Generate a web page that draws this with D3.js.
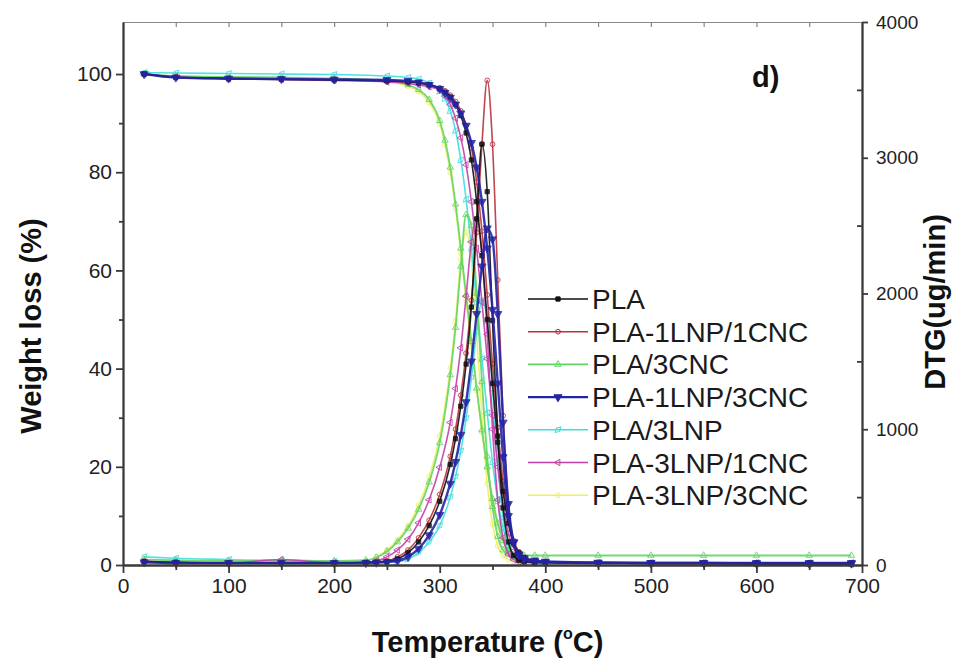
<!DOCTYPE html>
<html>
<head>
<meta charset="utf-8">
<script src="https://cdn.jsdelivr.net/npm/d3@7"></script>
<style>
  body { margin: 0; background: #fff; }
  svg { display: block; font-family: "Liberation Sans", Arial, sans-serif; }
</style>
</head>
<body>
<svg id="chart" width="955" height="665"></svg>
<script>
// Temperature grid for the weight-loss (TGA) curves, °C
const tgaTemps = [20, 50, 100, 150, 200, 250, 270, 280, 290, 300, 305, 310, 315, 320, 325, 330, 335, 340, 345, 350, 355, 360, 365, 370, 375, 380, 390, 400, 450, 500, 550, 600, 650, 690];
// Temperature grid for the derivative (DTG) curves, °C
const dtgTemps = [20, 50, 100, 150, 200, 230, 240, 250, 260, 270, 280, 290, 300, 310, 315, 320, 325, 330, 335, 340, 345, 350, 355, 360, 365, 370, 375, 380, 390, 400, 450, 500, 550, 600, 650, 690];

const seriesNames = ["PLA", "PLA-1LNP/1CNC", "PLA/3CNC", "PLA-1LNP/3CNC", "PLA/3LNP", "PLA-3LNP/1CNC", "PLA-3LNP/3CNC"];

// Weight loss (%)
const tgaPLA      = [100, 99.3, 99.0, 98.9, 98.8, 98.6, 98.4, 98.2, 97.8, 97.0, 96.3, 95.3, 93.8, 91.5, 88, 82.5, 74, 63, 50, 37, 25, 15, 8.5, 4.5, 2.5, 1.5, 0.8, 0.6, 0.4, 0.3, 0.3, 0.2, 0.2, 0.2];
const tga1LNP1CNC = [100, 99.4, 99.1, 99.0, 98.9, 98.7, 98.5, 98.3, 97.9, 97.2, 96.6, 95.7, 94.4, 92.5, 89.5, 85, 78, 68, 55, 41, 28, 17, 9.5, 5, 2.7, 1.6, 0.9, 0.6, 0.4, 0.3, 0.3, 0.2, 0.2, 0.2];
const tga3CNC     = [100, 99.6, 99.4, 99.3, 99.1, 98.6, 97.8, 96.8, 94.8, 90.5, 86.5, 81, 73.5, 64.5, 55, 45.5, 36, 27.5, 20, 13.5, 8.5, 5, 3, 1.8, 1.2, 0.9, 0.7, 0.6, 0.5, 0.4, 0.4, 0.4, 0.3, 0.3];
const tga1LNP3CNC = [100, 99.3, 99.1, 99.0, 98.9, 98.8, 98.6, 98.3, 97.8, 97.0, 96.2, 95.2, 93.8, 92, 89.5, 86, 81, 74, 64.5, 52, 37, 22, 10, 4.5, 2.2, 1.4, 0.9, 0.7, 0.5, 0.4, 0.4, 0.3, 0.3, 0.3];
const tga3LNP     = [100.3, 100.2, 100.1, 100, 99.9, 99.6, 99.3, 99, 98.2, 96.5, 95, 92.5, 88.5, 82.5, 74.5, 64.5, 53.5, 42, 31, 21, 13, 7.5, 4, 2.2, 1.3, 0.9, 0.7, 0.6, 0.5, 0.4, 0.4, 0.3, 0.3, 0.3];
const tga3LNP1CNC = [100, 99.4, 99.1, 98.9, 98.7, 98.4, 98.1, 97.8, 97.4, 96.8, 95.5, 93.8, 91, 87, 81.5, 74, 64.5, 53.5, 42, 30.5, 20, 12, 6.5, 3.5, 2, 1.3, 0.8, 0.6, 0.4, 0.3, 0.3, 0.3, 0.2, 0.2];
const tga3LNP3CNC = [100, 99.5, 99.3, 99.2, 99.0, 98.4, 97.5, 96.4, 94.2, 89.8, 85.5, 80, 72.5, 63.5, 54, 44.5, 35.5, 27, 19.5, 13, 8, 4.8, 2.8, 1.7, 1.1, 0.8, 0.6, 0.5, 0.4, 0.4, 0.3, 0.3, 0.3, 0.3];

// DTG (ug/min)
const dtgPLA      = [25, 20, 15, 15, 15, 18, 20, 25, 45, 90, 170, 290, 470, 740, 930, 1170, 1480, 1900, 2550, 3100, 2750, 1800, 950, 420, 170, 70, 35, 25, 20, 18, 15, 15, 15, 15, 15, 15];
const dtg1LNP1CNC = [30, 20, 15, 15, 15, 20, 25, 30, 60, 110, 200, 330, 520, 800, 1000, 1250, 1560, 1950, 2450, 3100, 3570, 3100, 2100, 1100, 450, 150, 60, 35, 25, 20, 15, 15, 15, 15, 15, 15];
const dtg3CNC     = [40, 35, 30, 35, 30, 35, 55, 100, 170, 270, 410, 610, 900, 1400, 1750, 2200, 2580, 2500, 2000, 1350, 800, 430, 210, 110, 80, 70, 70, 70, 70, 70, 70, 70, 70, 70, 70, 70];
const dtg1LNP3CNC = [20, 15, 15, 15, 15, 15, 18, 22, 30, 60, 120, 220, 370, 600, 760, 960, 1200, 1500, 1850, 2200, 2480, 2400, 1850, 1050, 450, 170, 70, 40, 25, 20, 15, 15, 15, 15, 15, 15];
const dtg3LNP     = [60, 50, 40, 30, 25, 20, 20, 22, 25, 45, 90, 170, 290, 500, 650, 840, 1080, 1380, 1720, 1950, 1800, 1300, 750, 350, 140, 60, 35, 25, 20, 15, 15, 15, 15, 15, 15, 15];
const dtg3LNP1CNC = [20, 15, 15, 40, 15, 20, 30, 60, 110, 190, 310, 480, 720, 1050, 1300, 1600, 1980, 2380, 2550, 2300, 1700, 1000, 480, 200, 80, 40, 25, 20, 15, 15, 15, 15, 15, 15, 15, 15];
const dtg3LNP3CNC = [20, 15, 15, 15, 15, 30, 60, 110, 185, 290, 440, 650, 950, 1450, 1800, 2250, 2450, 2250, 1700, 1100, 600, 300, 140, 70, 40, 25, 20, 15, 15, 15, 15, 15, 15, 15, 15, 15];

const xTicks = [0, 100, 200, 300, 400, 500, 600, 700];
const yLeftTicks = [0, 20, 40, 60, 80, 100];
const yRightTicks = [0, 1000, 2000, 3000, 4000];

// Styling per series (legend order)
const colors = ["#111111", "#b8333a", "#63d463", "#2424a6", "#3fdede", "#c23fa8", "#eef060"];
const symbols = [d3.symbolSquare, d3.symbolCircle, d3.symbolTriangle, d3.symbolTriangle, d3.symbolDiamond, d3.symbolTriangle, d3.symbolCircle];
const symbolRot = [0, 0, 0, 180, 45, -90, 0];
const widths = [1.6, 1.6, 1.8, 2.4, 1.6, 1.6, 1.6];

const tgaData = [tgaPLA, tga1LNP1CNC, tga3CNC, tga1LNP3CNC, tga3LNP, tga3LNP1CNC, tga3LNP3CNC];
const dtgData = [dtgPLA, dtg1LNP1CNC, dtg3CNC, dtg1LNP3CNC, dtg3LNP, dtg3LNP1CNC, dtg3LNP3CNC];

const svg = d3.select("#chart");
const L = 123, R = 862, T = 22, B = 565;

const x = d3.scaleLinear().domain([0, 700]).range([L, R]);
const yL = d3.scaleLinear().domain([0, 110.6]).range([B, T]);
const yR = d3.scaleLinear().domain([0, 4000]).range([B, T]);

const axisColor = "#3a3a3a";
const tickFont = 21;

// Curves
const drawOrder = [6, 4, 2, 5, 1, 0, 3];
const plot = svg.append("g");
drawOrder.forEach(i => {
  const tga = tgaTemps.map((t, k) => [t, tgaData[i][k]]);
  const dtg = dtgTemps.map((t, k) => [t, dtgData[i][k]]);
  const lineL = d3.line().x(d => x(d[0])).y(d => yL(d[1])).curve(d3.curveMonotoneX);
  const lineR = d3.line().x(d => x(d[0])).y(d => yR(d[1])).curve(d3.curveMonotoneX);
  [[tga, lineL, yL], [dtg, lineR, yR]].forEach(([pts, gen, ys]) => {
    plot.append("path").attr("d", gen(pts))
      .attr("fill", "none").attr("stroke", colors[i])
      .attr("stroke-width", widths[i]).attr("stroke-linejoin", "round")
      .attr("opacity", 0.9);
    const sym = d3.symbol().type(symbols[i]).size(i === 3 ? 28 : 18);
    plot.selectAll(null).data(pts).enter().append("path")
      .attr("d", sym)
      .attr("transform", d => `translate(${x(d[0])},${ys(d[1])}) rotate(${symbolRot[i]})`)
      .attr("fill", i === 3 || i === 0 ? colors[i] : "none")
      .attr("stroke", colors[i]).attr("stroke-width", 1)
      .attr("opacity", 0.85);
  });
});

function styleAxis(g) {
  g.selectAll("path, line").attr("stroke", axisColor).attr("stroke-width", 1.8);
  g.selectAll("text").attr("fill", "#222").attr("font-size", tickFont)
    .attr("font-family", '"Liberation Sans", Arial, sans-serif');
}

// Bottom axis with minor ticks
svg.append("g").attr("transform", `translate(0,${B})`)
  .call(d3.axisBottom(x).tickValues(d3.range(50, 700, 100)).tickSize(5).tickFormat("").tickSizeOuter(0))
  .call(styleAxis);
svg.append("g").attr("transform", `translate(0,${B})`)
  .call(d3.axisBottom(x).tickValues(xTicks).tickSize(8).tickPadding(5).tickSizeOuter(0))
  .call(styleAxis);

// Top border with inward ticks
svg.append("g").attr("transform", `translate(0,${T})`)
  .call(d3.axisBottom(x).tickValues(d3.range(50, 700, 50)).tickSize(5).tickFormat("").tickSizeOuter(0))
  .call(styleAxis)
  .call(g => g.selectAll("path, line").attr("stroke-width", 1.2).attr("stroke", "#888"));

// Left axis
svg.append("g").attr("transform", `translate(${L},0)`)
  .call(d3.axisLeft(yL).tickValues(d3.range(10, 110, 20)).tickSize(4).tickFormat("").tickSizeOuter(0))
  .call(styleAxis);
svg.append("g").attr("transform", `translate(${L},0)`)
  .call(d3.axisLeft(yL).tickValues(yLeftTicks).tickSize(7).tickPadding(4).tickSizeOuter(0))
  .call(styleAxis);

// Right axis
svg.append("g").attr("transform", `translate(${R},0)`)
  .call(d3.axisLeft(yR).tickValues(d3.range(500, 4000, 1000)).tickSize(5).tickFormat("").tickSizeOuter(0))
  .call(styleAxis);
svg.append("g").attr("transform", `translate(${R},0)`)
  .call(d3.axisRight(yR).tickValues(yRightTicks).tickFormat(d3.format("d")).tickSize(6).tickPadding(8).tickSizeOuter(0))
  .call(styleAxis)
  .call(g => g.selectAll("text").attr("font-size", 19));

// Axis titles
const xt = svg.append("text").attr("x", (L + R) / 2 - 5).attr("y", 652)
  .attr("text-anchor", "middle").attr("font-size", 29).attr("font-weight", "bold").attr("fill", "#111");
xt.append("tspan").text("Temperature (");
xt.append("tspan").text("o").attr("font-size", 16).attr("dy", -13);
xt.append("tspan").text("C)").attr("dy", 13);

svg.append("text").attr("transform", `translate(41,326) rotate(-90)`)
  .attr("text-anchor", "middle").attr("font-size", 29).attr("font-weight", "bold").attr("fill", "#111")
  .text("Weight loss (%)");

svg.append("text").attr("transform", `translate(945,302) rotate(-90)`)
  .attr("text-anchor", "middle").attr("font-size", 29).attr("font-weight", "bold").attr("fill", "#111")
  .text("DTG(ug/min)");

// Panel label
svg.append("text").attr("x", 752).attr("y", 87).attr("font-size", 29).attr("font-weight", "bold")
  .attr("fill", "#111").text("d)");

// Legend
const legend = svg.append("g");
seriesNames.forEach((name, i) => {
  const yy = 299 + i * 32.7;
  legend.append("line").attr("x1", 528).attr("x2", 588).attr("y1", yy).attr("y2", yy)
    .attr("stroke", colors[i]).attr("stroke-width", widths[i]);
  legend.append("path").attr("d", d3.symbol().type(symbols[i]).size(i === 3 ? 28 : 18))
    .attr("transform", `translate(558,${yy}) rotate(${symbolRot[i]})`)
    .attr("fill", i === 3 || i === 0 ? colors[i] : "none").attr("stroke", colors[i]);
  legend.append("text").attr("x", 592).attr("y", yy).attr("dy", "0.36em")
    .attr("font-size", 28).attr("fill", "#1a1a1a").text(name);
});
</script>
</body>
</html>
